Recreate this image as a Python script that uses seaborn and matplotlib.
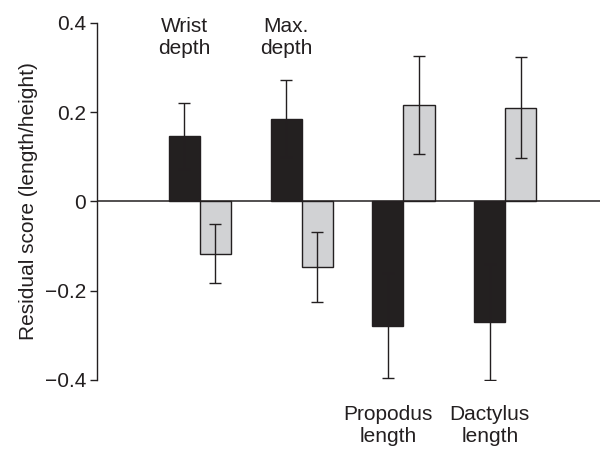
import matplotlib
matplotlib.use("Agg")
import matplotlib.pyplot as plt
import seaborn as sns
import pandas as pd

# values
measures = ["Wrist\ndepth", "Max.\ndepth", "Propodus\nlength", "Dactylus\nlength"]
groups = ["dark", "light"]
dark_vals = [0.147, 0.185, -0.278, -0.271]
dark_err = [0.074, 0.086, 0.118, 0.130]
light_vals = [-0.117, -0.147, 0.215, 0.210]
light_err = [0.066, 0.078, 0.110, 0.114]
yticks = [-0.4, -0.2, 0, 0.2, 0.4]
ytick_labels = ["\u22120.4", "\u22120.2", "0", "0.2", "0.4"]

ink = "#231f20"
colors = {"dark": ink, "light": "#d1d2d4"}

df = pd.DataFrame({
    "measure": measures * 2,
    "group": ["dark"] * 4 + ["light"] * 4,
    "value": dark_vals + light_vals,
})

sns.set_style("white")
plt.rcParams["font.family"] = ["Liberation Sans", "DejaVu Sans"]

fig = plt.figure(figsize=(6, 4.49), dpi=100)
ax = fig.add_axes([0.1617, 0.1537, 0.8383, 0.7957])

sns.barplot(data=df, x="measure", y="value", hue="group", order=measures,
            hue_order=groups, palette=colors, width=0.61, gap=0,
            edgecolor=ink, linewidth=1.0, errorbar=None, legend=False,
            ax=ax, zorder=2)

# error bars on top of each bar
errs = dark_err + light_err
vals = dark_vals + light_vals
xs = [p.get_x() + p.get_width() / 2 for p in ax.patches]
ax.errorbar(xs, vals, yerr=errs, fmt="none", ecolor=ink, elinewidth=1.0,
            capsize=4, capthick=1.0, zorder=3)

ax.axhline(0, color=ink, lw=1.1, zorder=2.5)

ax.set_xlim(-1.01, 3.93)
ax.set_ylim(-0.4, 0.4)
ax.set_yticks(yticks)
ax.set_yticklabels(ytick_labels, fontsize=15, color=ink)
ax.set_xticks([])
ax.set_xlabel("")
ax.set_ylabel("Residual score (length/height)", fontsize=15, color=ink,
              labelpad=5)
ax.tick_params(axis="y", direction="out", length=5, width=1.0,
               color=ink, pad=3, left=True)
for s in ["top", "right", "bottom"]:
    ax.spines[s].set_visible(False)
ax.spines["left"].set_color(ink)
ax.spines["left"].set_linewidth(1.0)

# category labels centred over the dark bars
dark_xs = xs[:4]
for i, name in enumerate(measures):
    y = 0.368 if dark_vals[i] > 0 else -0.503
    ax.text(dark_xs[i], y, name, ha="center", va="center", fontsize=15,
            color=ink, linespacing=1.2, clip_on=False)

fig.savefig("out.png", dpi=100)
